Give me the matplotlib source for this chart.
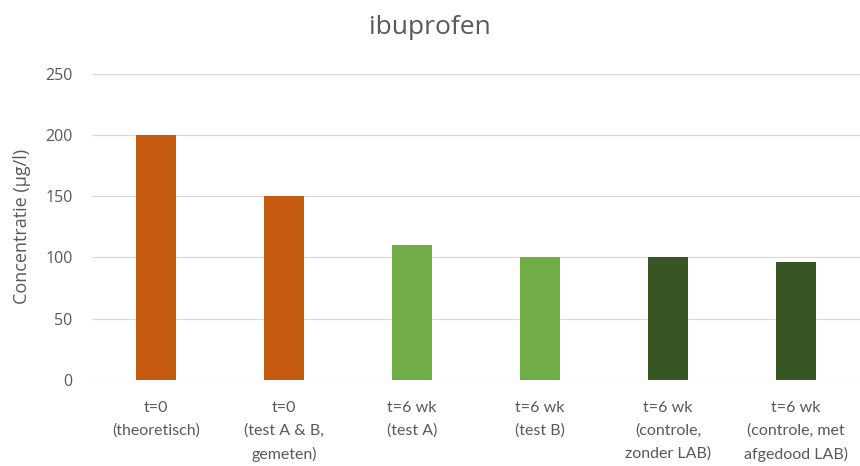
import matplotlib.pyplot as plt

plt.rcParams['font.family'] = ['Open Sans', 'DejaVu Sans']

labels = ['t=0\n(theoretisch)', 't=0\n(test A & B,\ngemeten)', 't=6 wk\n(test A)',
          't=6 wk\n(test B)', 't=6 wk\n(controle,\nzonder LAB)', 't=6 wk\n(controle, met\nafgedood LAB)']
values = [200, 150, 110, 100, 100, 96]
colors = ['#C55A11', '#C55A11', '#70AD47', '#70AD47', '#375623', '#375623']

fig = plt.figure(figsize=(8.6, 4.66), dpi=100)
ax = fig.add_axes([0.107, 0.185, 0.893, 0.657])

x = range(len(values))
ax.bar(x, values, width=0.31, color=colors, zorder=3)

ax.set_xlim(-0.5, len(values) - 0.5)
ax.set_ylim(0, 250)
ax.set_yticks(range(0, 251, 50))
ax.set_xticks(list(x))
ax.set_xticklabels(labels, fontsize=11.5, color='#595959', linespacing=1.78, va='top',
                   family=['Lato', 'DejaVu Sans'])
ax.tick_params(axis='y', labelsize=11.5, colors='#595959', length=0, pad=14)
ax.tick_params(axis='x', length=0, pad=15)
ax.grid(axis='y', color='#D9D9D9', linewidth=0.9, zorder=0)
for s in ax.spines.values():
    s.set_visible(False)

ax.set_ylabel('Concentratie (µg/l)', fontsize=13, color='#595959', va='center')
ax.yaxis.set_label_coords(-0.091, 0.5)
fig.text(0.5, 0.94, 'ibuprofen', ha='center', va='center', fontsize=19, color='#595959')

fig.savefig('out.png', dpi=100)
